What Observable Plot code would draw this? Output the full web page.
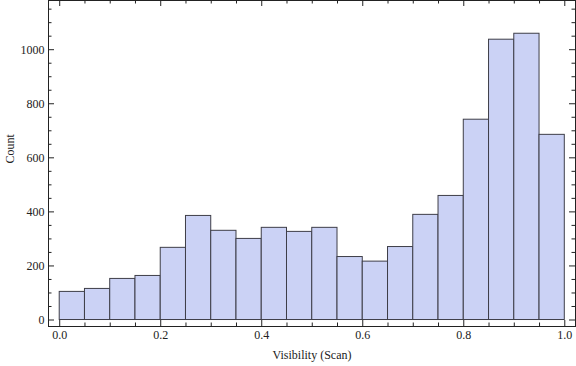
<!DOCTYPE html>
<html>
<head>
<meta charset="utf-8">
<script src="https://cdn.jsdelivr.net/npm/d3@7"></script>
<script src="https://cdn.jsdelivr.net/npm/@observablehq/plot@0.6"></script>
<style>
  html, body { margin: 0; padding: 0; background: #fff; }
  #chart svg { display: block; }
</style>
</head>
<body>
<div id="chart"></div>
<script>
const binLo = [0.00,0.05,0.10,0.15,0.20,0.25,0.30,0.35,0.40,0.45,0.50,0.55,0.60,0.65,0.70,0.75,0.80,0.85,0.90,0.95];
const binWidth = 0.05;
const counts = [104,115,152,163,267,385,330,300,341,326,341,233,216,270,389,459,741,1037,1059,685];
const xMajor = [0, 0.2, 0.4, 0.6, 0.8, 1.0];
const xMinor = [0.05,0.1,0.15,0.25,0.3,0.35,0.45,0.5,0.55,0.65,0.7,0.75,0.85,0.9,0.95];
const yMajor = [0, 200, 400, 600, 800, 1000];
const yMinor = [50,100,150,250,300,350,450,500,550,650,700,750,850,900,950,1050,1100,1150];
const xLabel = "Visibility (Scan)";
const yLabel = "Count";

const bars = binLo.map((lo, i) => ({x1: lo, x2: lo + binWidth, y: counts[i]}));

const W = 576, H = 366, mT = 0, mB = 40, mL = 48, mR = 1;
const innerH = H - mT - mB, innerW = W - mL - mR;
const font = "'Liberation Serif', 'Times New Roman', serif";
const ink = "#222";
const majorLen = 6, minorLen = 3.5;

const chart = Plot.plot({
  width: W, height: H,
  marginTop: mT, marginBottom: mB, marginLeft: mL, marginRight: mR,
  style: {fontFamily: font, fontSize: "12px", color: ink, background: "#fff"},
  x: {domain: [-0.0222, 1.0212]},
  y: {domain: [-24, 1182]},
  marks: [
    Plot.rectY(bars, {x1: "x1", x2: "x2", y: "y", fill: "#cbd2f5", stroke: "#3e3e48", strokeWidth: 1}),
    // bottom ticks
    Plot.tickX(xMajor, {x: d => d, insetTop: innerH - majorLen, stroke: ink}),
    Plot.tickX(xMinor, {x: d => d, insetTop: innerH - minorLen, stroke: ink}),
    // top ticks
    Plot.tickX(xMajor, {x: d => d, insetBottom: innerH - majorLen, stroke: ink}),
    Plot.tickX(xMinor, {x: d => d, insetBottom: innerH - minorLen, stroke: ink}),
    // left ticks
    Plot.tickY(yMajor, {y: d => d, insetRight: innerW - majorLen, stroke: ink}),
    Plot.tickY(yMinor, {y: d => d, insetRight: innerW - minorLen, stroke: ink}),
    // right ticks
    Plot.tickY(yMajor, {y: d => d, insetLeft: innerW - majorLen, stroke: ink}),
    Plot.tickY(yMinor, {y: d => d, insetLeft: innerW - minorLen, stroke: ink}),
    Plot.axisX({ticks: xMajor, tickSize: 0, tickPadding: 4, label: null, tickFormat: d3.format(".1f"), fontSize: 12}),
    Plot.axisY({ticks: yMajor, tickSize: 0, tickPadding: 4, label: null, tickFormat: d => String(d), fontSize: 12}),
    Plot.frame({stroke: ink}),
    Plot.text([xLabel], {frameAnchor: "bottom", dy: 29, text: d => d, fontSize: 12, lineAnchor: "middle", fill: ink}),
    Plot.text([yLabel], {frameAnchor: "left", dx: -38, rotate: -90, text: d => d, fontSize: 12, lineAnchor: "middle", fill: ink})
  ]
});
document.getElementById("chart").appendChild(chart);
</script>
</body>
</html>
